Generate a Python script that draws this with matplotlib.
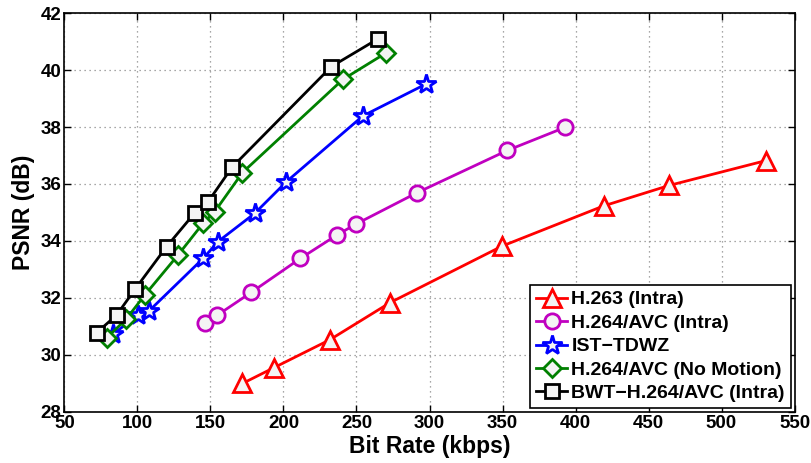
import numpy as np
import matplotlib.pyplot as plt

plt.rcParams['font.family'] = ['Liberation Sans', 'DejaVu Sans']
plt.rcParams['font.weight'] = 'bold'

# H.263 (Intra)
h263_x = [171.9, 193.3, 231.6, 273.1, 349.7, 419.2, 464.2, 530.3]
h263_y = [29.0, 29.55, 30.53, 31.84, 33.82, 35.23, 35.95, 36.82]
# H.264/AVC (Intra)
avc_x = [146.1, 154.8, 178.0, 211.6, 236.6, 249.9, 291.3, 353.4, 393.0]
avc_y = [31.11, 31.40, 32.2, 33.39, 34.21, 34.6, 35.69, 37.18, 37.99]
# IST-TDWZ
ist_x = [83.4, 100.5, 108.0, 145.0, 155.2, 180.3, 202.0, 254.4, 297.3]
ist_y = [30.74, 31.40, 31.55, 33.39, 33.98, 34.97, 36.08, 38.39, 39.5]
# H.264/AVC (No Motion)
nm_x = [78.9, 92.1, 105.1, 127.8, 144.9, 152.9, 171.9, 240.7, 269.9]
nm_y = [30.6, 31.25, 32.11, 33.51, 34.62, 35.03, 36.40, 39.67, 40.59]
# BWT-H.264/AVC (Intra)
bwt_x = [72.0, 85.7, 98.2, 119.9, 139.3, 148.4, 164.8, 232.8, 264.6]
bwt_y = [30.78, 31.40, 32.30, 33.80, 34.99, 35.38, 36.59, 40.12, 41.09]

labels = ['H.263 (Intra)', 'H.264/AVC (Intra)', 'IST\u2212TDWZ',
          'H.264/AVC (No Motion)', 'BWT\u2212H.264/AVC (Intra)']

fig = plt.figure(figsize=(8.11, 4.63), dpi=100)
ax = fig.add_axes([0.0795, 0.1102, 0.9002, 0.8617])

face = '#f4f4f4'
ax.plot(h263_x, h263_y, color='red', marker='^', markersize=13, lw=2, mew=2, mfc=face, label=labels[0])
ax.plot(avc_x, avc_y, color='#c000c0', marker='o', markersize=11, lw=2, mew=2, mfc=face, label=labels[1])
ax.plot(ist_x, ist_y, color='blue', marker='*', markersize=15, lw=2, mew=2, mfc=face, label=labels[2])
ax.plot(nm_x, nm_y, color='green', marker='D', markersize=9, lw=2, mew=2, mfc=face, label=labels[3])
ax.plot(bwt_x, bwt_y, color='black', marker='s', markersize=10, lw=2, mew=2, mfc=face, label=labels[4])

ax.set_xlim(50, 550)
ax.set_ylim(28, 42)
ax.set_xticks(np.arange(50, 551, 50))
ax.set_yticks(np.arange(28, 43, 2))
ax.tick_params(direction='in', top=True, right=True, labelsize=13.5, length=5, width=1, pad=2)
for t in ax.get_xticklabels() + ax.get_yticklabels():
    t.set_fontweight('bold')
ax.grid(True, linestyle=(0, (1, 3)), color='#8a8a8a', linewidth=0.9)
for s in ax.spines.values():
    s.set_linewidth(1.2)

ax.set_xlabel('Bit Rate (kbps)', fontsize=16.5, fontweight='bold', labelpad=2)
ax.set_ylabel('PSNR (dB)', fontsize=16.5, fontweight='bold', labelpad=4)

leg = ax.legend(loc='lower right', fontsize=14, fancybox=False, edgecolor='black',
                framealpha=1, borderaxespad=0.2, handlelength=1.6, handletextpad=0.2,
                labelspacing=0.3, borderpad=0.3)
leg.get_frame().set_linewidth(1.2)

fig.savefig('out.png', dpi=100)
